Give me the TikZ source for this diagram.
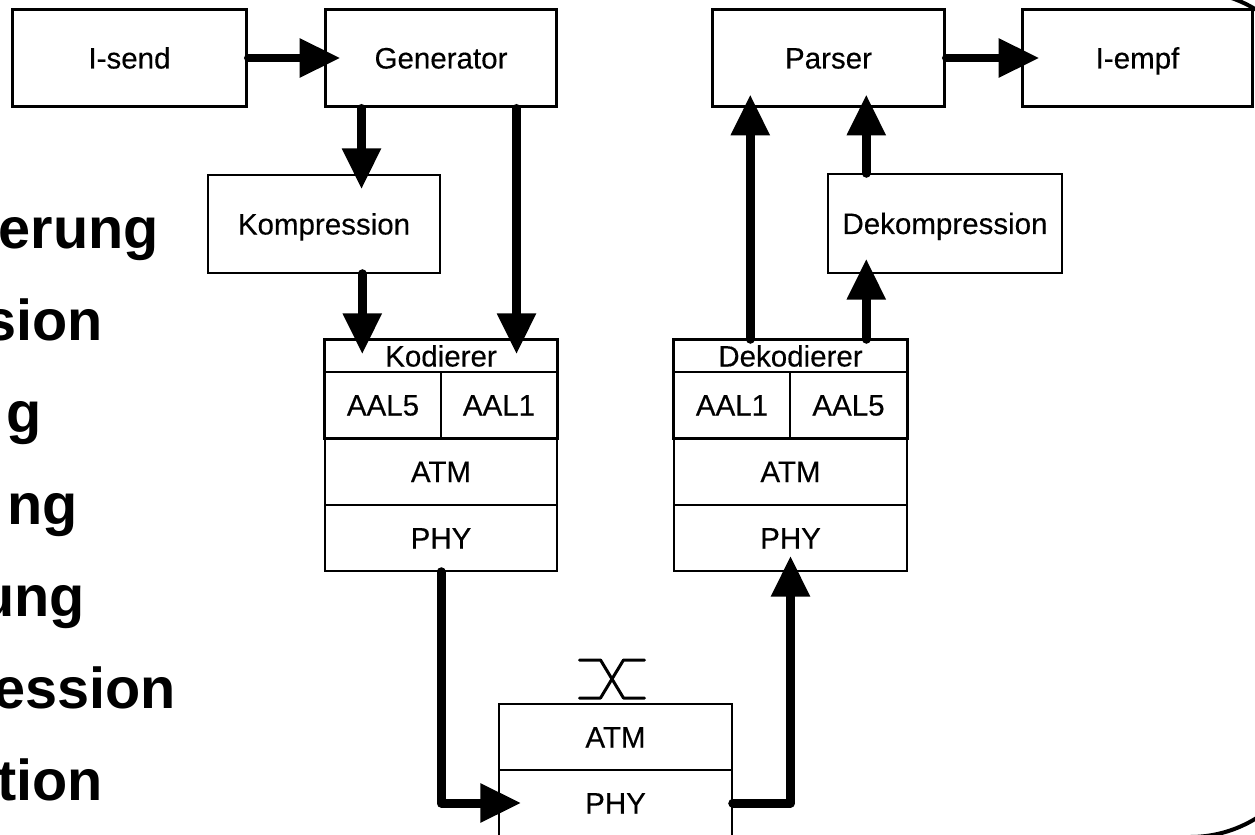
\documentclass[tikz,border=0pt]{standalone}
\usepackage{fontspec}
\setmainfont{Liberation Sans}
\newfontfamily\boxfont[FakeBold=0.3]{Liberation Sans}
\usetikzlibrary{arrows.meta,calc}

\begin{document}
\begin{tikzpicture}[x=0.02cm,y=-0.02cm,
  lbl/.style={font=\boxfont\fontsize{16.8}{20}\selectfont, text height=0.42cm, text depth=0cm},
  box/.style={draw, line width=0.06cm, minimum width=4.64cm, minimum height=1.96cm, inner sep=0, lbl},
  thinbox/.style={draw, line width=0.03cm, minimum width=4.64cm, minimum height=1.96cm, inner sep=0, lbl},
  cell/.style={draw, line width=0.03cm, inner sep=0, lbl},
  flow/.style={line width=0.18cm, line cap=round, line join=round,
    -{Triangle[length=0.82cm,width=0.74cm]}},
  bullet/.style={font=\fontsize{32.8}{36}\selectfont\bfseries, inner sep=0, anchor=base east},
  frame/.style={line width=0.08cm},
  switchsym/.style={line width=0.06cm, line cap=round, line join=round}
]
\useasboundingbox (0,0) rectangle (1255,835);
\clip (0,0) rectangle (1255,835);

% slide frame
\draw[frame, rounded corners=2.52cm] (-500,-9) rectangle (1316,837);

% bullet list (cut at the left edge)
\node[bullet] (b1) at (159,248) {erung};
\node[bullet] (b2) at (103,340) {sion};
\node[bullet] (b3) at (42,432) {g};
\node[bullet] (b4) at (78,524) {ng};
\node[bullet] (b5) at (85,616) {ung};
\node[bullet] (b6) at (176,708) {ession};
\node[bullet] (b7) at (103,800) {tion};

% top row
\node[box, minimum width=4.7cm] (isend) at (129.5,58) {I-send};
\node[box] (gen) at (441,58) {Generator};
\node[box, minimum width=4.66cm] (parser) at (828.5,58) {Parser};
\node[box, minimum width=4.62cm] (iempf) at (1137.5,58) {I-empf};

% compression stages
\node[thinbox] (kompr) at (324,224) {Kompression};
\node[thinbox, minimum width=4.68cm, minimum height=1.98cm] (dekompr) at (945,223.5) {Dekompression};

% sender stack
\node[cell, minimum width=4.64cm, minimum height=0.64cm] (kod) at (441,356) {Kodierer};
\node[cell, minimum width=2.32cm, minimum height=1.32cm] (aal5a) at (383,405) {AAL5};
\node[cell, minimum width=2.32cm, minimum height=1.32cm] (aal1a) at (499,405) {AAL1};
\node[cell, minimum width=4.64cm, minimum height=1.34cm] (atma) at (441,471.5) {ATM};
\node[cell, minimum width=4.64cm, minimum height=1.32cm] (phya) at (441,538) {PHY};
\draw[line width=0.06cm] (kod.north west) rectangle (aal1a.south east);

% receiver stack
\node[cell, minimum width=4.66cm, minimum height=0.64cm] (dkod) at (790.5,356) {Dekodierer};
\node[cell, minimum width=2.32cm, minimum height=1.32cm] (aal1b) at (732,405) {AAL1};
\node[cell, minimum width=2.34cm, minimum height=1.32cm] (aal5b) at (848.5,405) {AAL5};
\node[cell, minimum width=4.66cm, minimum height=1.34cm] (atmb) at (790.5,471.5) {ATM};
\node[cell, minimum width=4.66cm, minimum height=1.32cm] (phyb) at (790.5,538) {PHY};
\draw[line width=0.06cm] (dkod.north west) rectangle (aal5b.south east);

% ATM switch
\node[cell, minimum width=4.66cm, minimum height=1.32cm] (satm) at (615.5,737) {ATM};
\node[cell, minimum width=4.66cm, minimum height=1.32cm] (sphy) at (615.5,803) {PHY};
\coordinate (sw) at (611.5,679);
\draw[switchsym] ($(sw)+(-32,-19)$) -- ++(21,0) -- ++(23,38) -- ++(21,0);
\draw[switchsym] ($(sw)+(-32,19)$) -- ++(21,0) -- ++(23,-38) -- ++(21,0);

% data flow
\draw[flow] (isend.east) -- ($(gen.west)+(17,0)$);
\draw[flow] (parser.east) -- ($(iempf.west)+(19,0)$);
\draw[flow] ($(gen.south west)+(38,0)$) -- ($(gen.south west |- kompr.north)+(38,15)$);
\draw[flow] ($(gen.south west)+(193,0)$) -- ($(gen.south west |- kod.north)+(193,15)$);
\draw[flow] ($(kompr.south west)+(155,0)$) -- ($(kompr.south west |- kod.north)+(155,15)$);
\draw[flow] ($(dkod.north west)+(77,0)$) -- ($(dkod.north west |- parser.south)+(77,-14)$);
\draw[flow] ($(dkod.north west)+(193,0)$) -- ($(dkod.north west |- dekompr.south)+(193,-15)$);
\draw[flow] ($(dekompr.north west)+(39,0)$) -- ($(dekompr.north west |- parser.south)+(39,-14)$);
\draw[flow] (phya.south) -- (phya.south |- sphy.west) -- ($(sphy.west)+(23,0)$);
\draw[flow] (sphy.east) -- (sphy.east -| phyb.south) -- ($(phyb.south)+(0,-16)$);
\end{tikzpicture}
\end{document}
